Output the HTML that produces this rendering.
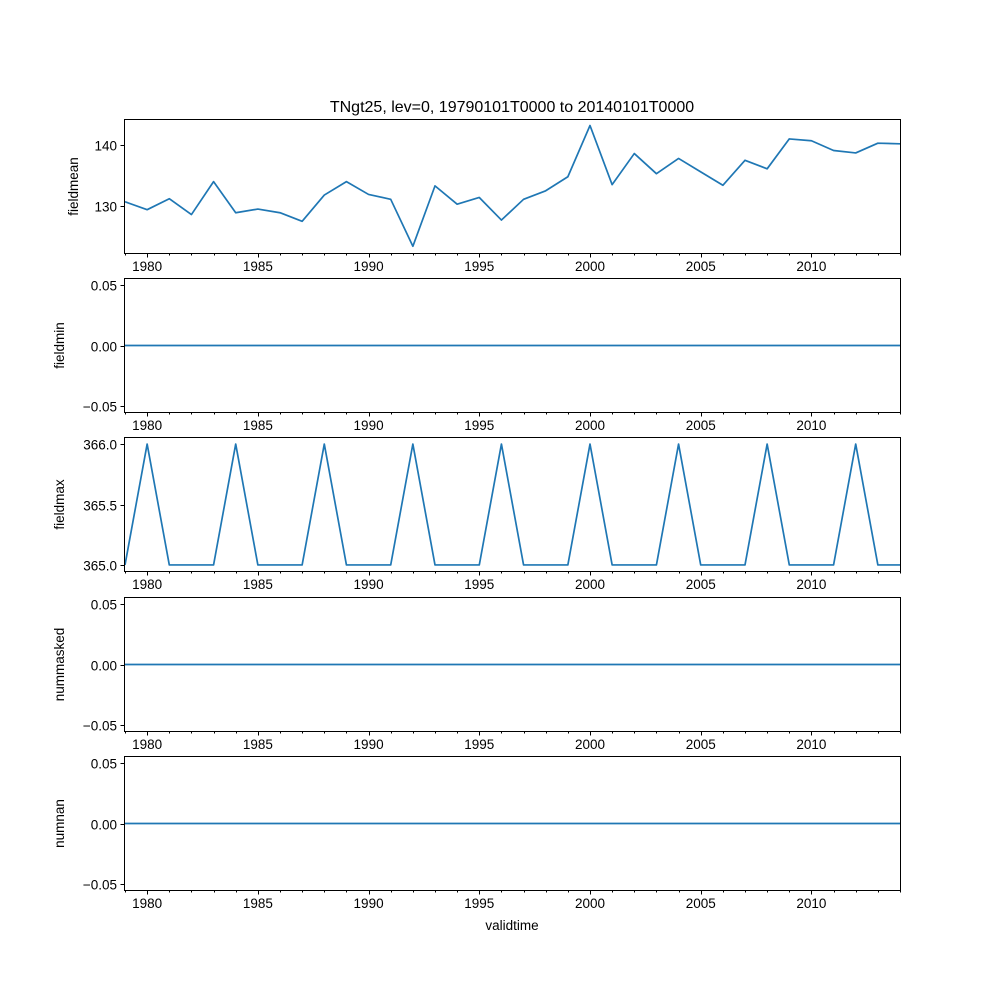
<!DOCTYPE html>
<html><head><meta charset="utf-8">
<style>
html,body{margin:0;padding:0;background:#fff;}
svg{display:block;font-family:"Liberation Sans","DejaVu Sans",sans-serif;}
</style></head>
<body>
<svg id="fig" width="1000" height="1000" viewBox="0 0 1000 1000" xmlns="http://www.w3.org/2000/svg">
<rect width="1000" height="1000" fill="#fff"/>
<text x="512" y="112" font-size="16" text-anchor="middle">TNgt25, lev=0, 19790101T0000 to 20140101T0000</text>
<text x="512" y="930" font-size="13.5" text-anchor="middle">validtime</text>
</svg>
<script>
const years = [1979,1980,1981,1982,1983,1984,1985,1986,1987,1988,1989,1990,1991,1992,1993,1994,1995,1996,1997,1998,1999,2000,2001,2002,2003,2004,2005,2006,2007,2008,2009,2010,2011,2012,2013,2014];
const fieldmean = [130.7,129.4,131.2,128.6,134.0,128.9,129.5,128.9,127.5,131.8,134.0,131.9,131.1,123.4,133.3,130.3,131.4,127.7,131.1,132.5,134.8,143.2,133.5,138.6,135.3,137.8,135.6,133.4,137.5,136.1,141.0,140.7,139.1,138.7,140.3,140.2];
const fieldmin = years.map(()=>0);
const fieldmax = [365,366,365,365,365,366,365,365,365,366,365,365,365,366,365,365,365,366,365,365,365,366,365,365,365,366,365,365,365,366,365,365,365,366,365,365];
const nummasked = years.map(()=>0);
const numnan = years.map(()=>0);
const xTicks = [1980,1985,1990,1995,2000,2005,2010];
const meanTicks = [130,140];
const zeroTicks = [-0.05,0,0.05];
const maxTicks = [365.0,365.5,366.0];

const NS="http://www.w3.org/2000/svg";
const svg=document.getElementById('fig');
const X0=125,X1=900,Y0=1979,Y1=2014;
const xs=v=>X0+(v-Y0)/(Y1-Y0)*(X1-X0);
const snap=v=>Math.round(v)+0.5;
function mk(tag,attrs,parent){const e=document.createElementNS(NS,tag);for(const k in attrs)e.setAttribute(k,attrs[k]);(parent||svg).appendChild(e);return e;}

const panels=[
 {name:'fieldmean',data:fieldmean,top:120,lo:122.3,hi:144.1,ticks:meanTicks,fmt:v=>String(v)},
 {name:'fieldmin',data:fieldmin,top:279,lo:-0.055,hi:0.055,ticks:zeroTicks,fmt:v=>v.toFixed(2).replace('-','\u2212')},
 {name:'fieldmax',data:fieldmax,top:438,lo:364.95,hi:366.05,ticks:maxTicks,fmt:v=>v.toFixed(1)},
 {name:'nummasked',data:nummasked,top:598,lo:-0.055,hi:0.055,ticks:zeroTicks,fmt:v=>v.toFixed(2).replace('-','\u2212')},
 {name:'numnan',data:numnan,top:757,lo:-0.055,hi:0.055,ticks:zeroTicks,fmt:v=>v.toFixed(2).replace('-','\u2212')}
];
const H=133;
panels.forEach(p=>{
 const g=mk('g',{});
 
 
 const ys=v=>p.top+H-(v-p.lo)/(p.hi-p.lo)*H;
 const pts=years.map((y,i)=>xs(y).toFixed(2)+','+ys(p.data[i]).toFixed(2)).join(' ');
 const ln=mk('polyline',{points:pts,fill:'none',stroke:'#1f77b4','stroke-width':1.7,'stroke-linejoin':'round'},g);
 
 
 const fr=mk('rect',{x:X0-0.5,y:p.top-0.5,width:X1-X0+1,height:H+1,fill:'none',stroke:'#000','stroke-width':1},g);
 
 
 const by=p.top+H+0.5;
 for(let y=1979;y<=2014;y++){
  const major=xTicks.includes(y);
  const xx=snap(xs(y));
  mk('line',{x1:xx,x2:xx,y1:by,y2:by+(major?4:2),stroke:'#000','stroke-width':1},g);
 }
 xTicks.forEach(y=>{
  const t=mk('text',{x:xs(y),y:p.top+H+18,'font-size':13.5,'text-anchor':'middle'},g);
  t.textContent=y;
  
  
 });
 p.ticks.forEach(v=>{
  const yy=snap(ys(v));
  mk('line',{x1:X0-4.5,x2:X0-0.5,y1:yy,y2:yy,stroke:'#000','stroke-width':1},g);
  const t=mk('text',{x:X0-8,y:yy+5,'font-size':13.5,'text-anchor':'end'},g);
  t.textContent=p.fmt(v);
  
  
 });
 const lx=(p.name==='fieldmean')?78:64;
 const yt=mk('text',{x:lx,y:p.top+H/2,'font-size':13.5,'text-anchor':'middle',transform:`rotate(-90 ${lx} ${p.top+H/2})`},g);
 yt.textContent=p.name;
 
 
});
</script>
</body></html>
